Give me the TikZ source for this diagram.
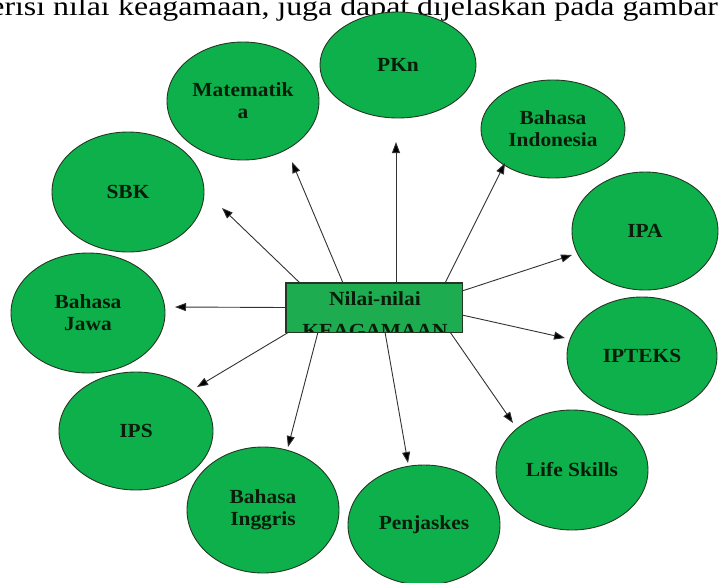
\documentclass[tikz,border=0pt]{standalone}
\usepackage{fontspec}
\setmainfont{Liberation Serif}
\newfontfamily\topfont[FakeStretch=1.18]{Liberation Serif}
\newfontfamily\lblfont[FakeStretch=1.07]{Liberation Serif}
\usetikzlibrary{shapes.geometric,arrows.meta,calc}
\definecolor{gfill}{RGB}{14,176,76}
\definecolor{rfill}{RGB}{30,172,80}
\definecolor{gline}{RGB}{35,55,35}
\definecolor{txt}{RGB}{10,28,10}
\definecolor{arrc}{RGB}{50,50,50}
\tikzset{
  bubble/.style={ellipse, draw=gline, line width=0.9pt, fill=gfill, inner sep=0pt,
    text=txt, align=center, font=\lblfont\bfseries\fontsize{20}{22}\selectfont},
  centerbox/.style={rectangle, draw=gline, line width=1pt, fill=rfill, inner sep=0pt,
    minimum width=176, minimum height=49},
  arr/.style={draw=arrc, line width=0.9pt, -{Triangle[length=11pt,width=8pt,fill=black]}}
}
\begin{document}
\begin{tikzpicture}[x=1pt,y=-1pt]
\useasboundingbox (0,0) rectangle (721,582);
% clipped heading line
\begin{scope}
\clip (0,0) rectangle (721,582);
\node[anchor=base west, inner sep=0pt, font=\topfont\fontsize{27}{30}\selectfont] (head) at (118,15) {keagamaan, juga dapat dijelaskan pada gambar};
\node[anchor=base east, inner sep=0pt, font=\topfont\fontsize{27}{30}\selectfont] (headl) at ($(head.base west)+(-8,0)$) {berisi nilai};
\end{scope}
% bubbles
\node[bubble, minimum width=152, minimum height=118] (mat) at (243,101) {Matematik\\a};
\node[bubble, minimum width=156, minimum height=106] (pkn) at (398,65) {PKn};
\node[bubble, minimum width=144, minimum height=98] (bin) at (553,129) {Bahasa\\Indonesia};
\node[bubble, minimum width=152, minimum height=120] (sbk) at (128,192) {SBK};
\node[bubble, minimum width=146, minimum height=118] (ipa) at (645,231) {IPA};
\node[bubble, minimum width=154, minimum height=120] (jaw) at (88,313) {Bahasa\\Jawa};
\node[bubble, minimum width=150, minimum height=118] (ipt) at (642,356) {IPTEKS};
\node[bubble, minimum width=154, minimum height=118] (ips) at (136,431) {IPS};
\node[bubble, minimum width=152, minimum height=120] (lif) at (572,470) {Life Skills};
\node[bubble, minimum width=152, minimum height=126] (ing) at (263,510) {Bahasa\\Inggris};
\node[bubble, minimum width=152, minimum height=120] (pen) at (424,525) {Penjaskes};
% centre box
\node[centerbox] (c) at (374,307.5) {};
\begin{scope}
\clip (c.south west) rectangle (c.north east);
\node[inner sep=0pt, anchor=base, text=txt, font=\lblfont\bfseries\fontsize{20}{22}\selectfont] (ct1) at ($(c.north)+(1,23)$) {Nilai-nilai};
\node[inner sep=0pt, anchor=base, text=txt, font=\lblfont\bfseries\fontsize{20}{22}\selectfont] (ct2) at ($(c.north)+(1,55)$) {KEAGAMAAN};
\end{scope}
\draw[draw=gline, line width=1pt] (c.south west) rectangle (c.north east);
% arrows
\draw[arr] ($(c.center)+(22,-24.5)$) -- ($(pkn.center)+(-2,77)$);
\draw[arr] ($(c.center)+(-31,-24.5)$) -- ($(mat.center)+(49,61)$);
\draw[arr] ($(c.center)+(-74,-24.5)$) -- ($(sbk.center)+(94,16)$);
\draw[arr] ($(c.center)+(-88,0)$) -- ($(jaw.center)+(87,-6)$);
\draw[arr] ($(c.center)+(-85,24.5)$) -- ($(ips.center)+(61,-44)$);
\draw[arr] ($(c.center)+(-56,24.5)$) -- ($(ing.center)+(25,-63)$);
\draw[arr] ($(c.center)+(11,24.5)$) -- ($(pen.center)+(-16,-62)$);
\draw[arr] ($(c.center)+(76,24.5)$) -- ($(lif.center)+(-59,-47)$);
\draw[arr] ($(c.center)+(88,7.5)$) -- ($(ipt.center)+(-77,-18)$);
\draw[arr] ($(c.center)+(88,-16.5)$) -- ($(ipa.center)+(-73,24)$);
\draw[arr] ($(c.center)+(71,-24.5)$) -- ($(bin.center)+(-48,34)$);
\end{tikzpicture}
\end{document}
